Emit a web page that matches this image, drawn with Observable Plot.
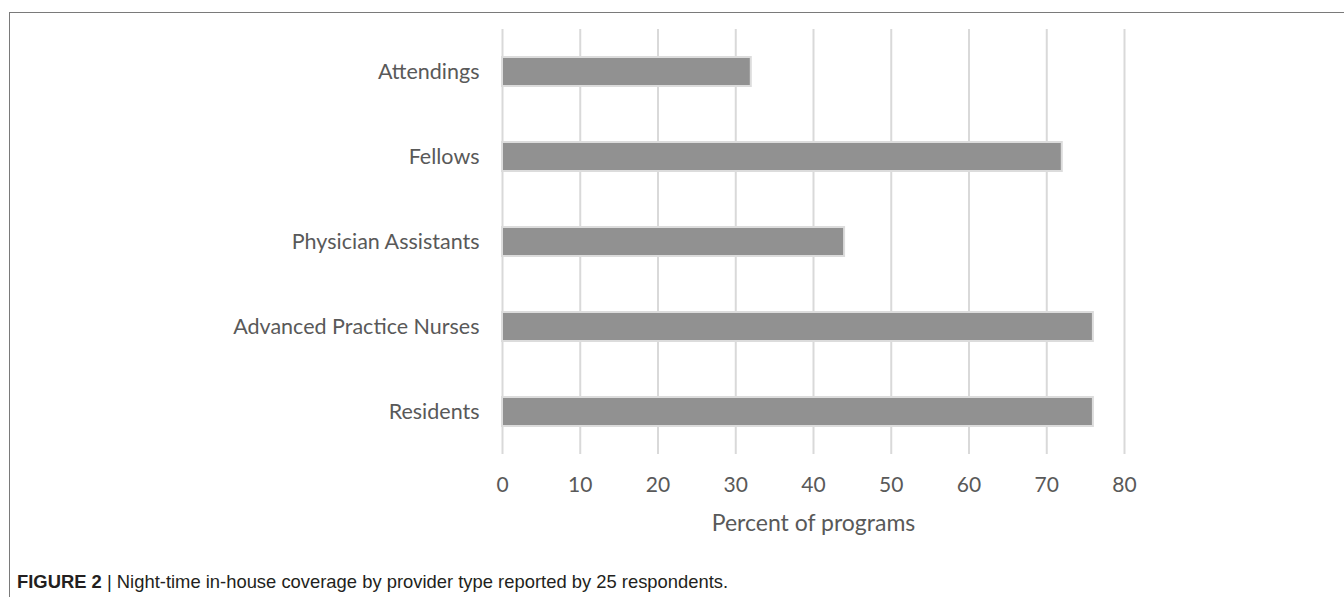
<!DOCTYPE html>
<html>
<head>
<meta charset="utf-8">
<script src="https://cdn.jsdelivr.net/npm/d3@7"></script>
<script src="https://cdn.jsdelivr.net/npm/@observablehq/plot@0.6"></script>
<style>
  html, body { margin: 0; padding: 0; background: #fff; }
  #wrap { position: relative; width: 1344px; height: 597px; overflow: hidden; }
  #frame { position: absolute; left: 9px; top: 12px; width: 1400px; height: 700px;
           border-top: 1.5px solid #7a7a7a; border-left: 1.5px solid #7a7a7a; }
  #chart { position: absolute; left: 0; top: 0; }
  #caption { position: absolute; left: 17px; top: 571px; font-family: "Liberation Sans", Arial, sans-serif;
             font-size: 18.4px; line-height: 22px; color: #231f20; white-space: nowrap; }
  #caption b { font-weight: bold; }
</style>
</head>
<body>
<div id="wrap">
  <div id="frame"></div>
  <div id="chart"></div>
  <div id="caption"><b>FIGURE 2</b> | Night-time in-house coverage by provider type reported by 25 respondents.</div>
</div>
<script>
const categories = ["Attendings", "Fellows", "Physician Assistants", "Advanced Practice Nurses", "Residents"];
const percents = [32, 72, 44, 76, 76];
const xTicks = [0, 10, 20, 30, 40, 50, 60, 70, 80];
const xLabel = "Percent of programs";

const data = categories.map((c, i) => ({category: c, value: percents[i]}));

const chart = Plot.plot({
  width: 1344,
  height: 597,
  marginLeft: 502,
  marginRight: 220,
  marginTop: 29,
  marginBottom: 143,
  style: {fontFamily: "Lato, 'Open Sans', sans-serif", color: "#595959", background: "transparent"},
  x: {domain: [0, 80]},
  y: {domain: categories, paddingInner: 0.66, paddingOuter: 0.33},
  marks: [
    Plot.ruleX(xTicks, {stroke: "#d9d9d9", strokeWidth: 2}),
    Plot.barX(data, {x: "value", y: "category", fill: "#919191", stroke: "#dcdcdc", strokeWidth: 2}),
    Plot.axisX(xTicks, {tickSize: 0, tickPadding: 23, fontSize: 21, label: null}),
    Plot.axisY({tickSize: 0, tickPadding: 23, fontSize: 21.5, label: null}),
    Plot.text([xLabel], {frameAnchor: "bottom", dy: 76, fontSize: 23, fill: "#595959"})
  ]
});
document.getElementById("chart").appendChild(chart);
</script>
</body>
</html>
